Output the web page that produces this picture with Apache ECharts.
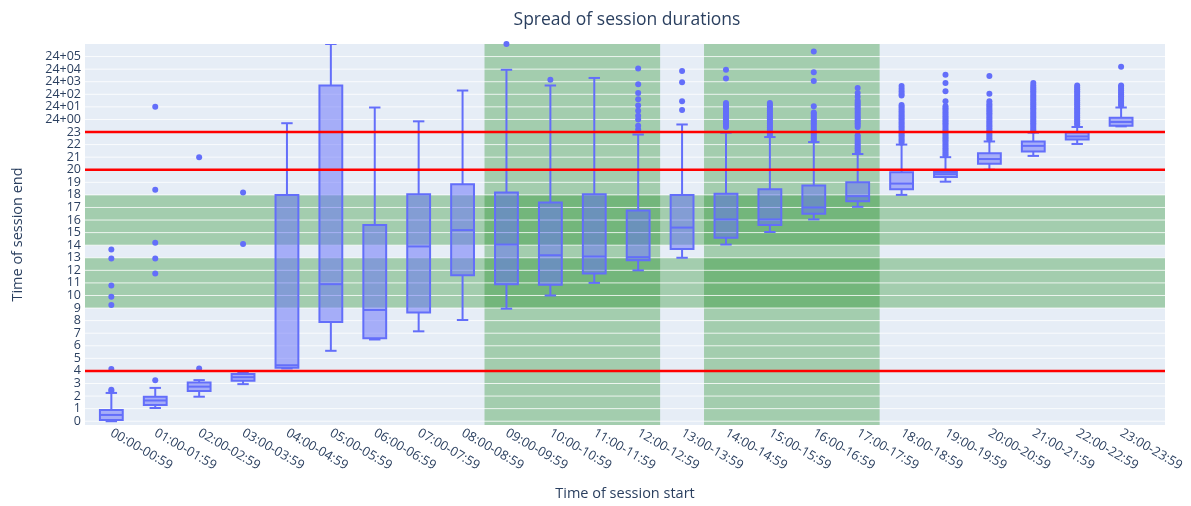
<!DOCTYPE html>
<html>
<head>
<meta charset="utf-8">
<script src="https://cdn.jsdelivr.net/npm/echarts@6/dist/echarts.min.js"></script>
<style>
  html, body { margin: 0; padding: 0; background: #ffffff; }
  #chart { width: 1191px; height: 506px; }
</style>
</head>
<body>
<div id="chart"></div>
<script>
// Hour-of-day buckets in which a session started
const categories = [
  '00:00-00:59', '01:00-01:59', '02:00-02:59', '03:00-03:59', '04:00-04:59', '05:00-05:59',
  '06:00-06:59', '07:00-07:59', '08:00-08:59', '09:00-09:59', '10:00-10:59', '11:00-11:59',
  '12:00-12:59', '13:00-13:59', '14:00-14:59', '15:00-15:59', '16:00-16:59', '17:00-17:59',
  '18:00-18:59', '19:00-19:59', '20:00-20:59', '21:00-21:59', '22:00-22:59', '23:00-23:59'
];

// Box statistics of the session end time (hours; 24+ means next day)
const lowerWhisker = [0.0, 1.05, 1.95, 2.95, 4.2, 5.6, 6.5, 7.15, 8.05, 8.95, 10.0, 11.0,
  12.0, 13.0, 14.05, 15.05, 16.05, 17.05, 18.0, 19.05, 20.0, 21.1, 22.05, 23.45];
const q1 = [0.1, 1.3, 2.4, 3.22, 4.25, 7.9, 6.6, 8.65, 11.6, 10.9, 10.85, 11.75,
  12.8, 13.7, 14.6, 15.6, 16.5, 17.5, 18.45, 19.42, 20.47, 21.45, 22.4, 23.5];
const median = [0.5, 1.65, 2.75, 3.5, 4.45, 10.9, 8.85, 13.9, 15.2, 14.05, 13.2, 13.1,
  13.05, 15.4, 16.05, 16.05, 17.0, 17.9, 18.9, 19.65, 20.85, 21.9, 22.65, 23.8];
const q3 = [0.9, 1.95, 3.08, 3.76, 18.0, 26.7, 15.6, 18.05, 18.85, 18.2, 17.4, 18.05,
  16.75, 18.0, 18.1, 18.45, 18.75, 19.0, 19.8, 19.82, 21.32, 22.25, 22.97, 24.13];
const upperWhisker = [2.25, 2.65, 3.27, 3.85, 23.7, 30.0, 24.95, 23.85, 26.3, 27.95, 26.7, 27.3,
  22.8, 23.6, 22.95, 22.6, 22.2, 21.25, 22.0, 21.0, 22.25, 22.95, 23.4, 24.95];

// Outlying sessions per start bucket
const outliers = [
  [2.4, 2.5, 4.15, 9.25, 9.9, 10.8, 12.95, 13.65],
  [3.25, 11.75, 12.95, 14.2, 18.4, 25.0],
  [4.2, 21.0],
  [14.1, 18.2],
  [],
  [],
  [],
  [],
  [],
  [30.0],
  [27.15],
  [],
  [23.2, 23.5, 24.0, 24.3, 24.7, 25.1, 25.6, 26.1, 26.8, 28.05],
  [24.75, 25.45, 26.95, 27.85],
  [23.4, 23.55, 23.7, 23.85, 24.0, 24.15, 24.3, 24.45, 24.6, 24.75, 24.9, 25.05, 25.2, 25.3, 27.25, 27.95],
  [22.75, 22.9, 23.05, 23.2, 23.35, 23.5, 23.65, 23.8, 23.95, 24.1, 24.25, 24.4, 24.55, 24.7, 24.85, 25.0, 25.15, 25.3],
  [22.35, 22.5, 22.65, 22.8, 22.95, 23.1, 23.25, 23.4, 23.55, 23.7, 23.85, 24.0, 24.15, 24.3, 24.45, 24.55, 25.05, 27.05, 27.75, 29.4],
  [21.4, 21.55, 21.7, 21.85, 22.0, 22.15, 22.3, 22.45, 22.6, 22.75, 23.4, 23.55, 23.7, 23.85, 24.0, 24.15, 24.3,
    24.45, 24.6, 24.75, 24.9, 25.05, 25.2, 25.35, 25.5, 25.8, 26.1, 26.5],
  [22.15, 22.3, 22.45, 22.6, 22.75, 22.9, 23.05, 23.2, 23.35, 23.5, 23.65, 23.8, 23.95, 24.1, 24.25, 24.4, 24.55,
    24.7, 24.85, 25.0, 25.15, 25.9, 26.05, 26.25, 26.45, 26.65],
  [21.15, 21.3, 21.45, 21.6, 21.75, 21.9, 22.05, 22.2, 22.35, 22.5, 22.65, 22.8, 22.95, 23.1, 23.25, 23.4, 23.55,
    23.7, 23.85, 24.0, 24.15, 24.3, 24.45, 24.6, 24.75, 24.9, 25.05, 25.45, 26.25, 26.9, 27.55],
  [22.4, 22.55, 22.7, 22.85, 23.0, 23.15, 23.3, 23.45, 23.6, 23.75, 23.9, 24.05, 24.2, 24.35, 24.5, 24.65, 24.8,
    24.95, 25.1, 25.25, 25.45, 26.05, 27.45],
  [23.1, 23.25, 23.4, 23.55, 23.7, 23.85, 24.0, 24.15, 24.3, 24.45, 24.6, 24.75, 24.9, 25.05, 25.2, 25.35, 25.5,
    25.65, 25.8, 25.95, 26.1, 26.25, 26.4, 26.55, 26.7, 26.9],
  [23.55, 23.7, 23.85, 24.0, 24.15, 24.3, 24.45, 24.6, 24.75, 24.9, 25.05, 25.2, 25.35, 25.5, 25.65, 25.8, 25.95,
    26.1, 26.25, 26.4, 26.55, 26.7],
  [25.1, 25.25, 25.4, 25.55, 25.7, 25.85, 26.0, 26.15, 26.3, 26.45, 26.6, 26.7, 28.2]
];

// End-time ticks: hours of the day, then hours past midnight
const yTickValues = [0, 1, 2, 3, 4, 5, 6, 7, 8, 9, 10, 11, 12, 13, 14, 15, 16, 17, 18, 19, 20, 21, 22, 23,
  24, 25, 26, 27, 28, 29];
const yTickLabels = ['0', '1', '2', '3', '4', '5', '6', '7', '8', '9', '10', '11', '12', '13', '14', '15', '16',
  '17', '18', '19', '20', '21', '22', '23', '24+00', '24+01', '24+02', '24+03', '24+04', '24+05'];
const xTickValues = [0, 1, 2, 3, 4, 5, 6, 7, 8, 9, 10, 11, 12, 13, 14, 15, 16, 17, 18, 19, 20, 21, 22, 23];

// Reference levels and highlighted ranges
const redLevels = [4, 20, 23];
const endHourBands = [[9, 13], [14, 18]];          // end time ranges
const startHourBands = [[8.5, 12.5], [13.5, 17.5]]; // start bucket ranges

const xRange = [-0.6, 24];
const yRange = [-0.3, 30];

const FONT = '"Open Sans", verdana, arial, sans-serif';
const TEXT = '#2a3f5f';
const BOX = '#636efa';

const chart = echarts.init(document.getElementById('chart'), null, { renderer: 'canvas' });

const boxData = categories.map((c, i) => [i, lowerWhisker[i], q1[i], median[i], q3[i], upperWhisker[i]]);
const outlierData = [];
outliers.forEach((arr, i) => arr.forEach(v => outlierData.push([i, v])));

const bandData = [];
endHourBands.forEach(b => bandData.push([xRange[0], xRange[1], b[0], b[1]]));
startHourBands.forEach(b => bandData.push([b[0], b[1], yRange[0], yRange[1]]));

function yLabel(v) {
  return yTickLabels[yTickValues.indexOf(Math.round(v))];
}

// The hourly ticks are dense, so they are split over two overlaid left axes
// (even and odd hours) to keep every label visible.
function endAxis(parity, withName) {
  const axis = {
    type: 'value',
    position: 'left',
    min: yRange[0], max: yRange[1],
    axisLine: { show: false },
    axisTick: { show: false },
    splitLine: { show: false },
    axisLabel: {
      customValues: yTickValues.filter((v, i) => i % 2 === parity),
      hideOverlap: false,
      showMinLabel: true,
      showMaxLabel: true,
      margin: 4,
      fontFamily: FONT, fontSize: 12.5, color: TEXT,
      formatter: yLabel
    }
  };
  if (withName) {
    axis.name = 'Time of session end';
    axis.nameLocation = 'middle';
    axis.nameGap = 60;
    axis.nameTextStyle = { fontFamily: FONT, fontSize: 14.5, color: TEXT };
  }
  return axis;
}

function hLineSeries(name, levels, color, width, z) {
  return {
    name: name,
    type: 'custom',
    z: z,
    silent: true,
    clip: true,
    data: levels.map(v => [v]),
    encode: { y: 0 },
    renderItem: function (params, api) {
      const v = api.value(0);
      const a = api.coord([xRange[0], v]);
      const b = api.coord([xRange[1], v]);
      return {
        type: 'line',
        shape: { x1: a[0], y1: a[1], x2: b[0], y2: b[1] },
        style: { stroke: color, lineWidth: width }
      };
    }
  };
}

const option = {
  backgroundColor: '#ffffff',
  animation: false,
  title: {
    text: 'Spread of session durations',
    left: 622,
    textAlign: 'center',
    top: 6,
    textStyle: { fontFamily: FONT, fontSize: 17.5, fontWeight: 'normal', color: TEXT }
  },
  grid: {
    left: 85, right: 26, top: 44, bottom: 76,
    show: true, backgroundColor: '#e6edf6', borderWidth: 0
  },
  xAxis: {
    type: 'value',
    min: xRange[0], max: xRange[1],
    name: 'Time of session start',
    nameLocation: 'middle',
    nameGap: 61,
    nameTextStyle: { fontFamily: FONT, fontSize: 14.5, color: TEXT },
    axisLine: { show: false },
    axisTick: { show: false },
    splitLine: { show: false },
    axisLabel: {
      customValues: xTickValues,
      hideOverlap: false,
      rotate: -30,
      margin: 7,
      fontFamily: FONT, fontSize: 12.8, color: TEXT,
      formatter: v => categories[Math.round(v)] || ''
    }
  },
  yAxis: [endAxis(0, true), endAxis(1, false)],
  series: [
    {
      name: 'bands',
      type: 'custom',
      z: 1,
      silent: true,
      clip: true,
      data: bandData,
      encode: { x: [0, 1], y: [2, 3] },
      renderItem: function (params, api) {
        const p0 = api.coord([api.value(0), api.value(3)]);
        const p1 = api.coord([api.value(1), api.value(2)]);
        return {
          type: 'rect',
          shape: { x: p0[0], y: p0[1], width: p1[0] - p0[0], height: p1[1] - p0[1] },
          style: { fill: 'rgba(0,128,0,0.29)' }
        };
      }
    },
    hLineSeries('grid', yTickValues, 'rgba(255,255,255,0.8)', 1, 2),
    {
      name: 'boxes',
      type: 'custom',
      z: 3,
      clip: true,
      data: boxData,
      encode: { x: 0, y: [1, 2, 3, 4, 5] },
      renderItem: function (params, api) {
        const i = api.value(0);
        const lo = api.coord([i, api.value(1)]);
        const b1 = api.coord([i, api.value(2)]);
        const md = api.coord([i, api.value(3)]);
        const b3 = api.coord([i, api.value(4)]);
        const hi = api.coord([i, api.value(5)]);
        const band = api.size([1, 0])[0];
        const bw = band * 0.52;
        const cw = bw * 0.5;
        const x = lo[0];
        const st = { stroke: BOX, lineWidth: 2, fill: null };
        return {
          type: 'group',
          children: [
            { type: 'line', shape: { x1: x, y1: b3[1], x2: x, y2: hi[1] }, style: st },
            { type: 'line', shape: { x1: x, y1: b1[1], x2: x, y2: lo[1] }, style: st },
            { type: 'line', shape: { x1: x - cw / 2, y1: hi[1], x2: x + cw / 2, y2: hi[1] }, style: st },
            { type: 'line', shape: { x1: x - cw / 2, y1: lo[1], x2: x + cw / 2, y2: lo[1] }, style: st },
            {
              type: 'rect',
              shape: { x: x - bw / 2, y: b3[1], width: bw, height: b1[1] - b3[1] },
              style: { fill: 'rgba(99,110,250,0.5)', stroke: BOX, lineWidth: 2 }
            },
            { type: 'line', shape: { x1: x - bw / 2, y1: md[1], x2: x + bw / 2, y2: md[1] }, style: st }
          ]
        };
      }
    },
    {
      name: 'outliers',
      type: 'scatter',
      z: 4,
      symbol: 'circle',
      symbolSize: 6,
      itemStyle: { color: BOX, opacity: 1 },
      data: outlierData
    },
    hLineSeries('levels', redLevels, '#ff0000', 2.5, 5)
  ]
};

chart.setOption(option);
</script>
</body>
</html>
